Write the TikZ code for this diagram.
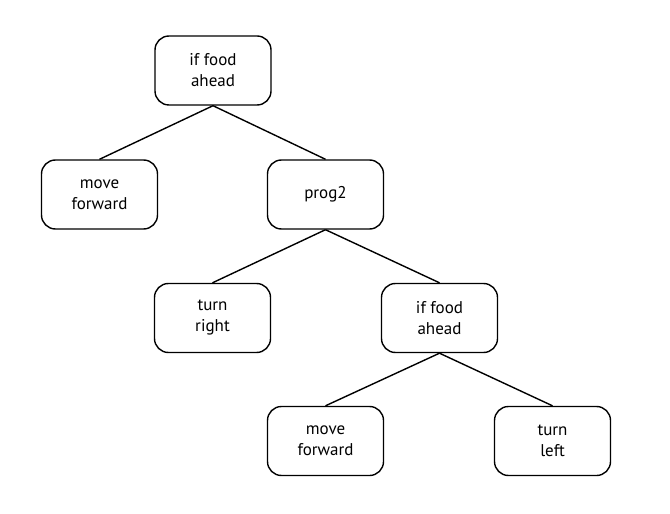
\documentclass[tikz,border=0pt]{standalone}
\usepackage{fontspec}
\setmainfont{PT Sans}
\begin{document}
\begin{tikzpicture}[x=1bp,y=-1bp,
  treebox/.style={draw=black, line width=1.4bp, rounded corners=14bp, minimum width=116bp, minimum height=69bp, inner sep=0pt, align=center, font=\fontsize{17bp}{21bp}\selectfont},
  treeedge/.style={draw=black, line width=1.4bp}]
\useasboundingbox (0,0) rectangle (670,514);
\node[treebox] (n1) at (213,70.5) {if food\\ahead};
\node[treebox] (n2) at (99.5,194.5) {move\\forward};
\node[treebox] (n3) at (325.5,194.5) {prog2};
\node[treebox] (n4) at (212.5,318) {turn\\right};
\node[treebox] (n5) at (439.5,318) {if food\\ahead};
\node[treebox] (n6) at (325.5,441) {move\\forward};
\node[treebox] (n7) at (552.5,441) {turn\\left};
\draw[treeedge] (n1.south) -- (n2.north);
\draw[treeedge] (n1.south) -- (n3.north);
\draw[treeedge] (n3.south) -- (n4.north);
\draw[treeedge] (n3.south) -- (n5.north);
\draw[treeedge] (n5.south) -- (n6.north);
\draw[treeedge] (n5.south) -- (n7.north);
\end{tikzpicture}
\end{document}
